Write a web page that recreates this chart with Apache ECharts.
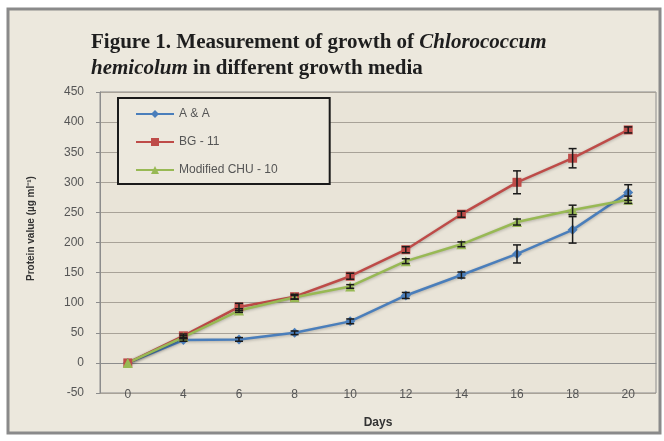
<!DOCTYPE html>
<html>
<head>
<meta charset="utf-8">
<script src="https://cdn.jsdelivr.net/npm/echarts@6/dist/echarts.min.js"></script>
<style>
  html, body { margin: 0; padding: 0; background: #ffffff; }
  #chart { width: 664px; height: 441px; }
</style>
</head>
<body>
<div id="chart"></div>
<script>
// 数据
var days = ['0', '4', '6', '8', '10', '12', '14', '16', '18', '20'];
var seriesNames = ['A & A', 'BG - 11', 'Modified CHU - 10'];
var valAA = [0, 38, 39, 50, 69, 112, 146, 181, 221, 283];
var valBG = [0, 45, 93, 110, 144, 188, 247, 300, 340, 387];
var valCHU = [0, 43, 87, 109, 127, 169, 197, 234, 254, 271];
var errAA = [0, 2, 3, 3, 4, 5, 5, 15, 22, 13];
var errBG = [0, 3, 6, 4, 5, 5, 5, 19, 16, 5];
var errCHU = [0, 2, 3, 3, 3, 4, 4, 5, 8, 6];
var yTicks = { min: -50, max: 450, step: 50 };

var colors = ['#4a7ebb', '#be4b48', '#98b954'];
var symbols = ['diamond', 'rect', 'triangle'];

function errData(vals, errs) {
    var out = [];
    for (var i = 0; i < vals.length; i++) {
        out.push([i, vals[i], errs[i]]);
    }
    return out;
}

// 误差线
function renderErr(params, api) {
    var x = api.value(0), y = api.value(1), e = api.value(2);
    if (!e) return null;
    var top = api.coord([x, y + e]);
    var bot = api.coord([x, y - e]);
    var st = { stroke: '#1a1a1a', lineWidth: 1.5 };
    return {
        type: 'group',
        children: [
            { type: 'line', shape: { x1: top[0], y1: top[1], x2: bot[0], y2: bot[1] }, style: st },
            { type: 'line', shape: { x1: top[0] - 4, y1: top[1], x2: top[0] + 4, y2: top[1] }, style: st },
            { type: 'line', shape: { x1: bot[0] - 4, y1: bot[1], x2: bot[0] + 4, y2: bot[1] }, style: st }
        ]
    };
}

var lineSeries = [valAA, valBG, valCHU].map(function (d, i) {
    return {
        name: seriesNames[i],
        type: 'line',
        data: d,
        symbol: symbols[i],
        symbolSize: i == 1 ? 9 : 10,
        z: 3,
        lineStyle: { width: 2.5, color: colors[i], shadowColor: 'rgba(0,0,0,0.25)', shadowBlur: 3, shadowOffsetY: 1 },
        itemStyle: { color: colors[i] }
    };
});

var errSeries = [[valAA, errAA], [valBG, errBG], [valCHU, errCHU]].map(function (p, i) {
    return {
        type: 'custom',
        data: errData(p[0], p[1]),
        renderItem: renderErr,
        encode: { x: 0, y: 1 },
        z: 4,
        silent: true
    };
});

var option = {
    backgroundColor: '#ffffff',
    animation: false,
    graphic: [
        {
            type: 'rect',
            shape: { x: 8, y: 9, width: 652, height: 424 },
            style: { fill: '#ece8dd', stroke: '#8a8a8a', lineWidth: 3 },
            z: -10
        }
    ],
    title: {
        left: 86,
        top: 25,
        text: '{b|Figure 1. Measurement of growth of }{i|Chlorococcum}\n{i|hemicolum}{b| in different growth media}',
        textStyle: {
            rich: {
                b: { fontFamily: 'Liberation Serif', fontWeight: 'bold', fontSize: 21, color: '#1e1e1e', lineHeight: 26 },
                i: { fontFamily: 'Liberation Serif', fontStyle: 'italic', fontSize: 21, color: '#1e1e1e', lineHeight: 26 }
            }
        }
    },
    legend: {
        orient: 'vertical',
        left: 118,
        top: 98,
        data: seriesNames,
        itemWidth: 38,
        itemHeight: 10,
        itemGap: 16,
        padding: [10, 52, 8, 17],
        borderColor: '#1a1a1a',
        borderWidth: 2,
        backgroundColor: '#ece8dd',
        textStyle: { fontFamily: 'Liberation Sans', fontSize: 12, color: '#555555' }
    },
    grid: {
        left: 100,
        right: 8,
        top: 92,
        bottom: 48,
        show: true,
        backgroundColor: '#e9e4d8',
        borderColor: '#8c8c8c',
        borderWidth: 1
    },
    xAxis: {
        type: 'category',
        data: days,
        name: 'Days',
        nameLocation: 'middle',
        nameGap: 24,
        nameTextStyle: { fontFamily: 'Liberation Sans', fontWeight: 'bold', fontSize: 12, color: '#333333' },
        axisLine: { lineStyle: { color: '#8c8c8c' } },
        axisTick: { show: false },
        axisLabel: { margin: -4, fontFamily: 'Liberation Sans', fontSize: 12, color: '#555555' }
    },
    yAxis: {
        type: 'value',
        min: yTicks.min,
        max: yTicks.max,
        interval: yTicks.step,
        name: 'Protein value (µg ml⁻¹)',
        nameLocation: 'middle',
        nameGap: 64,
        nameTextStyle: { fontFamily: 'Liberation Sans', fontWeight: 'bold', fontSize: 10, color: '#333333', padding: [0, 0, 0, 28] },
        axisLine: { show: true, lineStyle: { color: '#8c8c8c' } },
        axisTick: { show: true, length: 4, lineStyle: { color: '#8c8c8c' } },
        axisLabel: { margin: 16, fontFamily: 'Liberation Sans', fontSize: 12, color: '#555555' },
        splitLine: { lineStyle: { color: '#a8a298', width: 1 } }
    },
    series: lineSeries.concat(errSeries)
};

var chart = echarts.init(document.getElementById('chart'));
chart.setOption(option);
</script>
</body>
</html>
